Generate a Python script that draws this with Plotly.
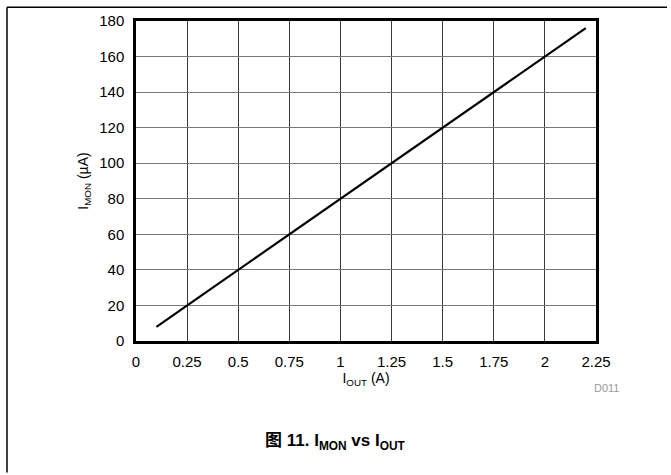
import plotly.graph_objects as go

# Data
i_out = [0.1, 0.25, 0.5, 0.75, 1.0, 1.25, 1.5, 1.75, 2.0, 2.2]
i_mon = [8, 20, 40, 60, 80, 100, 120, 140, 160, 176]

x_ticks = [0, 0.25, 0.5, 0.75, 1, 1.25, 1.5, 1.75, 2, 2.25]
x_tick_labels = ["0", "0.25", "0.5", "0.75", "1", "1.25", "1.5", "1.75", "2", "2.25"]
y_ticks = [0, 20, 40, 60, 80, 100, 120, 140, 160, 180]

FONT = "Liberation Sans, Arial, sans-serif"

fig = go.Figure()
fig.add_trace(go.Scatter(x=i_out, y=i_mon, mode="lines",
                         line=dict(color="black", width=2.2), showlegend=False,
                         hoverinfo="skip"))

L, R, T, B = 136, 75, 15, 134
W, H = 671, 475
pw, ph = W - L - R, H - T - B

def px(x):
    return (x - L) / pw

def py(y):
    return (H - B - y) / ph

fig.update_layout(
    width=W, height=H,
    margin=dict(l=L, r=R, t=T, b=B, pad=0),
    paper_bgcolor="white", plot_bgcolor="white",
    font=dict(family=FONT, size=14, color="black"),
    xaxis=dict(range=[0, 2.25], tickvals=x_ticks, ticktext=x_tick_labels,
               showgrid=True, gridcolor="#3a3a3a", gridwidth=1,
               showline=True, linecolor="black", linewidth=2.5, mirror=True,
               zeroline=False, ticks="outside", ticklen=5, tickcolor="rgba(0,0,0,0)",
               title=dict(text="I<sub>OUT</sub> (A)", standoff=3,
                          font=dict(size=14)),
               tickfont=dict(size=15)),
    yaxis=dict(range=[0, 180], tickvals=y_ticks,
               showgrid=True, gridcolor="#7a7a7a", gridwidth=1,
               showline=True, linecolor="black", linewidth=2.5, mirror=True,
               zeroline=False, ticks="outside", ticklen=6, tickcolor="rgba(0,0,0,0)",
               title=dict(text="I<sub>MON</sub> (µA)", standoff=8,
                          font=dict(size=14)),
               tickfont=dict(size=15)),
)

# outer frame lines (top and left)
fig.add_shape(type="line", xref="paper", yref="paper",
              x0=px(7), x1=px(667), y0=py(1), y1=py(1),
              line=dict(color="black", width=1.5))
fig.add_shape(type="line", xref="paper", yref="paper",
              x0=px(7), x1=px(7), y0=py(1), y1=py(475),
              line=dict(color="black", width=1.5))

fig.add_annotation(text="D011", xref="paper", yref="paper",
                   x=px(606), y=py(389), xanchor="center", yanchor="middle",
                   showarrow=False,
                   font=dict(size=11, color="#9a9a9a", family=FONT))

fig.add_annotation(text="<b>图 11. I<sub>MON</sub> vs I<sub>OUT</sub></b>",
                   xref="paper", yref="paper", x=px(335), y=py(444),
                   xanchor="center", yanchor="middle",
                   showarrow=False,
                   font=dict(size=17, color="black",
                             family="Liberation Sans, Noto Sans CJK SC, sans-serif"))

fig.write_html("out.html")
